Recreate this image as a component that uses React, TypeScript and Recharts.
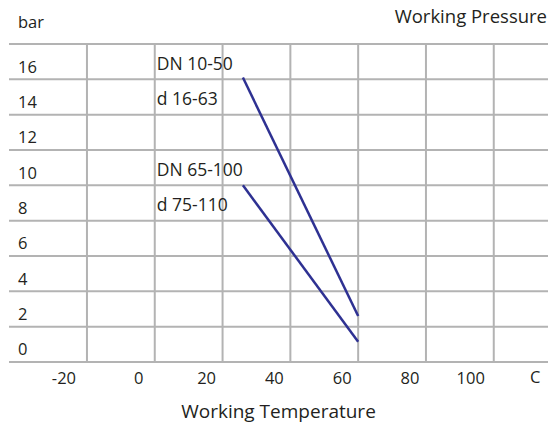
import {
  LineChart,
  Line,
  XAxis,
  YAxis,
  ReferenceLine,
  ReferenceDot,
  Label,
} from 'recharts';

const xTicks = [-20, 0, 20, 40, 60, 80, 100];
const yTicks = [0, 2, 4, 6, 8, 10, 12, 14, 16];
const yGrid = [-1, 1, 3, 5, 7, 9, 11, 13, 15, 17];

// DN 10-50 / d 16-63
const smallPipe = [
  { t: 26, p: 15.1 },
  { t: 60, p: 1.6 },
];
// DN 65-100 / d 75-110
const largePipe = [
  { t: 26, p: 9 },
  { t: 60, p: 0.15 },
];

const notes = [
  { text: 'DN 10-50', p: 16 },
  { text: 'd 16-63', p: 14 },
  { text: 'DN 65-100', p: 10 },
  { text: 'd 75-110', p: 8 },
];

const font = "'Open Sans', sans-serif";
const ink = '#231f20';
const gridColor = '#b3b3b3';
const lineColor = '#2e3192';

const XTick = (props: any) => {
  const { x, y, payload } = props;
  const shift = payload.value === -20 || payload.value === 100 ? 23 : 16;
  return (
    <text x={x - shift} y={y + 22} textAnchor="middle" fontSize={16.5} fontFamily={font} fill={ink}>
      {payload.value}
    </text>
  );
};

const YTick = (props: any) => {
  const { y, payload } = props;
  return (
    <text x={18} y={y + 11} textAnchor="start" fontSize={16.5} fontFamily={font} fill={ink}>
      {payload.value}
    </text>
  );
};

const App = () => {
  return (
    <div style={{ position: 'absolute', left: 0, top: 0, width: 548, height: 423, fontFamily: font }}>
      <div style={{ position: 'absolute', left: 18, top: 10, fontSize: 16.5, color: ink }}>bar</div>
      <div style={{ position: 'absolute', right: 1, top: 3, fontSize: 18.5, color: ink }}>Working Pressure</div>
      <div style={{ position: 'absolute', left: 530, top: 365, fontSize: 16.5, color: ink }}>C</div>
      <LineChart width={548} height={423} margin={{ top: 44, right: 0, bottom: 0, left: 0 }}>
        <XAxis
          type="number"
          dataKey="t"
          domain={[-43, 116]}
          ticks={xTicks}
          allowDataOverflow
          height={61}
          tickSize={0}
          tickMargin={0}
          axisLine={false}
          tick={<XTick />}
        >
          <Label
            value="Working Temperature"
            position="insideBottom"
            offset={5}
            style={{ fontSize: 19, fontFamily: font, fill: ink }}
          />
        </XAxis>
        <YAxis
          type="number"
          domain={[-1, 17]}
          ticks={yTicks}
          width={9}
          tickSize={0}
          tickMargin={0}
          axisLine={false}
          tick={<YTick />}
        />
        {yGrid.map((v) => (
          <ReferenceLine key={'h' + v} y={v} stroke={gridColor} strokeWidth={2} />
        ))}
        {xTicks.map((v) => (
          <ReferenceLine key={'v' + v} x={v} stroke={gridColor} strokeWidth={2} />
        ))}
        {notes.map((n) => (
          <ReferenceDot
            key={n.text}
            x={0}
            y={n.p}
            r={0}
            stroke="none"
            label={{ value: n.text, position: 'right', offset: 2, dy: 2, fontSize: 17.5, fontFamily: font, fill: ink }}
          />
        ))}
        <Line
          data={smallPipe}
          dataKey="p"
          type="linear"
          stroke={lineColor}
          strokeWidth={2.5}
          dot={false}
          isAnimationActive={false}
        />
        <Line
          data={largePipe}
          dataKey="p"
          type="linear"
          stroke={lineColor}
          strokeWidth={2.5}
          dot={false}
          isAnimationActive={false}
        />
      </LineChart>
    </div>
  );
};

export default App;
